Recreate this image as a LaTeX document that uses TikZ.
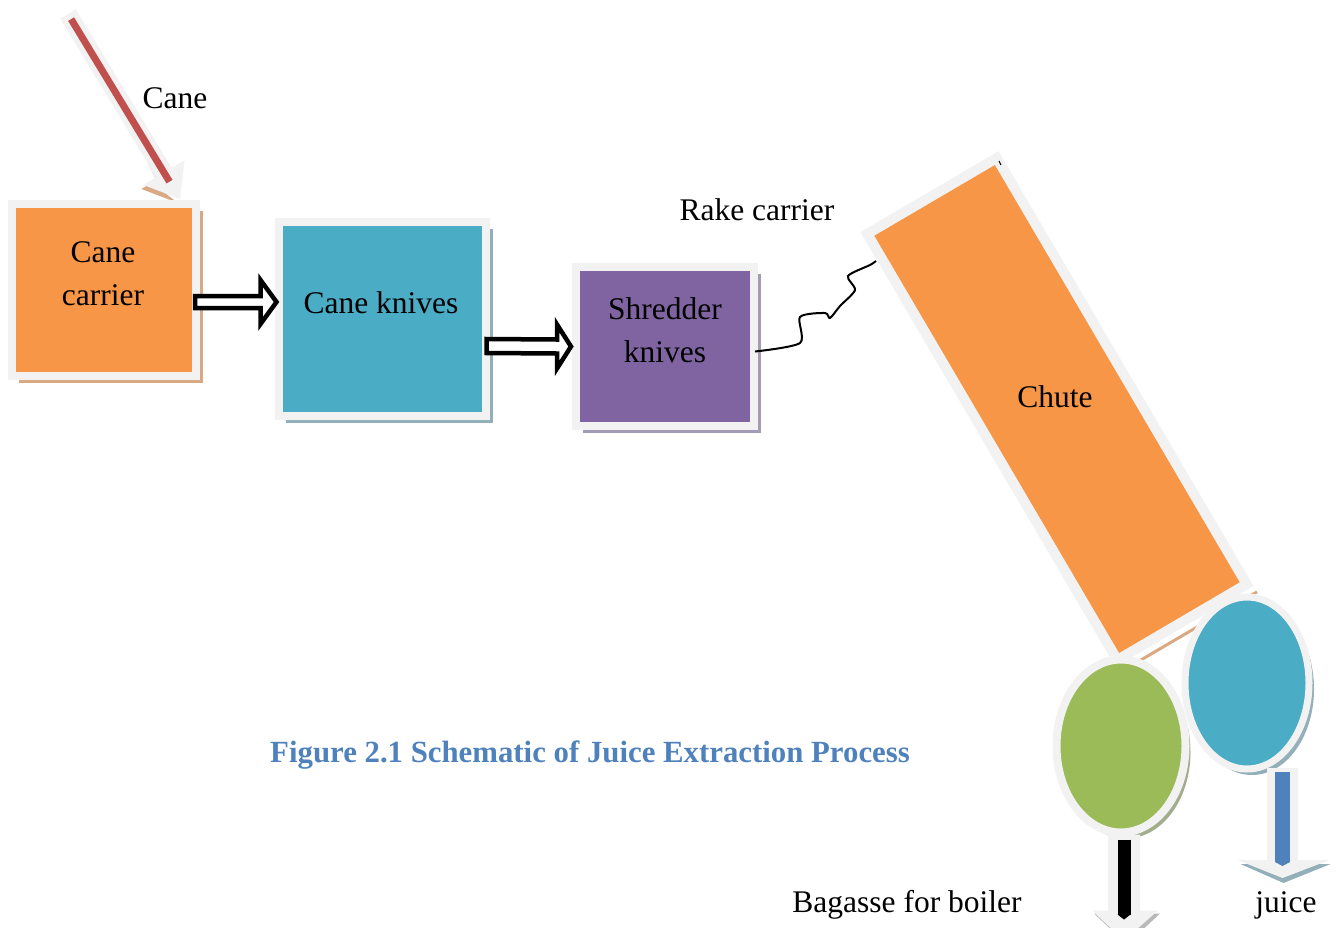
\documentclass[tikz,border=0pt]{standalone}
\usepackage{fontspec}
\setmainfont{Liberation Serif}
\usetikzlibrary{calc,shapes.geometric,shadows}
\definecolor{frameg}{HTML}{F2F2F2}
\definecolor{orng}{HTML}{F79646}
\definecolor{bluebox}{HTML}{4BACC6}
\definecolor{purp}{HTML}{8064A2}
\definecolor{grn}{HTML}{9BBB59}
\definecolor{capblue}{HTML}{4F81BD}
\definecolor{shtan}{HTML}{D9A984}
\definecolor{shblue}{HTML}{93AFBA}
\definecolor{shpurp}{HTML}{A49CB5}
\definecolor{shgrn}{HTML}{A3AC8C}
\definecolor{caneRed}{HTML}{C0504D}
\begin{document}
\begin{tikzpicture}[x=1pt,y=-1pt,
  framebox/.style={rectangle,draw=frameg,line width=8pt,inner sep=0pt},
  frameell/.style={ellipse,draw=frameg,line width=8pt,inner sep=0pt},
  lbl/.style={font=\fontsize{31.5}{43}\selectfont,align=center,inner sep=0pt},
  hollow/.style={draw=black,line width=4.5pt,fill=white,line join=miter},
  outarrow/.style={fill=frameg}
]
\useasboundingbox (0,0) rectangle (1339,927);

% ---- Cane arrow
\coordinate (cs) at (68,14);
\coordinate (ct) at (180,199);
\coordinate (cb) at ($(cs)!0.857!(ct)$);
\fill[shtan] ($(cb)!24pt!90:(cs)+(-2,4)$) -- ($(ct)+(-2,4)$) -- ($(cb)!12pt!90:(cs)+(-2,4)$) -- cycle;
\fill[frameg!80!gray!60] ($(cs)!9pt!90:(ct)+(-1.5,1)$) -- ($(cb)!9pt!90:(cs)+(-1.5,1)$) -- ($(cb)!9pt!90:(cs)$) -- ($(cs)!9pt!90:(ct)$) -- cycle;
\fill[frameg] ($(cs)!9pt!90:(ct)$) -- ($(cb)!9pt!-90:(cs)$) -- ($(cb)!24pt!-90:(cs)$) -- (ct)
  -- ($(cb)!24pt!90:(cs)$) -- ($(cb)!9pt!90:(cs)$) -- ($(cs)!9pt!-90:(ct)$) -- cycle;
\draw[caneRed,line width=7pt] ($(cs)!6pt!(ct)$) -- ($(cs)!196pt!(ct)$);
\node[lbl] (canet) at (175,98) {Cane};

% ---- Boxes
\node[framebox,fill=orng,minimum width=184pt,minimum height=172pt,
  drop shadow={shadow xshift=7pt,shadow yshift=-7pt,fill=shtan,opacity=1}] (carrier) at (104,290) {};
\node[lbl] (carriert) at (103,274) {Cane\\carrier};

\node[framebox,fill=bluebox,minimum width=207pt,minimum height=194pt,
  drop shadow={shadow xshift=7pt,shadow yshift=-7pt,fill=shblue,opacity=1}] (knives) at (382,319) {};
\node[lbl] (knivest) at (381,303) {Cane knives};

\node[framebox,fill=purp,minimum width=178pt,minimum height=159pt,
  drop shadow={shadow xshift=7pt,shadow yshift=-7pt,fill=shpurp,opacity=1}] (shredder) at (665,346.5) {};
\node[lbl] (shreddert) at (665,330) {Shredder\\knives};

% ---- Hollow block arrows
\coordinate (a1s) at ($(carrier.east)+(-5,12)$);
\coordinate (a1e) at ($(knives.west)+(2,-17)$);
\draw[hollow] ($(a1s)+(0,-6)$) -- ($(a1e)+(-16,-6)$) -- ($(a1e)+(-16,-22)$) -- (a1e)
  -- ($(a1e)+(-16,22)$) -- ($(a1e)+(-16,6)$) -- ($(a1s)+(0,6)$) -- cycle;
\coordinate (a2s) at ($(knives.east)+(-3,27)$);
\coordinate (a2e) at ($(shredder.west)+(-1,0)$);
\draw[hollow] ($(a2s)+(0,-7)$) -- ($(a2e)+(-14,-7)$) -- ($(a2e)+(-14,-22)$) -- (a2e)
  -- ($(a2e)+(-14,22)$) -- ($(a2e)+(-14,7)$) -- ($(a2s)+(0,7)$) -- cycle;

% ---- Chute
\node[rectangle,draw=frameg,fill=orng,line width=10pt,inner sep=0pt,
  minimum width=150pt,minimum height=494pt,rotate=30.4] (chute) at (1057,409) {};
\draw[shtan,line width=3pt] ($(chute.south west)+(3.5,6)$) -- ($(chute.south east)+(3.5,6)$);
\node[lbl] (chutet) at (1055,397) {Chute};
\draw[line width=1pt] (999,161) -- (1001,165);

% ---- Rake carrier connector
\node[lbl] (raket) at (757,210) {Rake carrier};
\coordinate (w0) at ($(shredder.east)+(-3,5)$);
\coordinate (w9) at (876,261);
\draw[line width=2pt] plot[smooth,tension=0.45] coordinates {(w0) (800,343) (800,317) (825,313) (830,318) (840,306) (855,290) (848,276) (870,265) (w9)};

% ---- Rollers
\node[frameell,fill=bluebox,minimum width=124pt,minimum height=172pt,line width=7pt,
  drop shadow={shadow xshift=5pt,shadow yshift=-6pt,fill=shblue,opacity=1}] (roll2) at (1247,683) {};
\node[frameell,fill=grn,minimum width=129pt,minimum height=173pt,
  drop shadow={shadow xshift=5pt,shadow yshift=-6pt,fill=shgrn,opacity=1}] (roll1) at (1121,746) {};

% ---- Bagasse arrow
\coordinate (b0) at ($(roll1.south)+(3,-2)$);
\fill[gray!55] ($(b0)+(-30,79)$) -- ($(b0)+(36,79)$) -- ($(b0)+(3,110)$) -- cycle;
\fill[frameg] ($(b0)+(-16,0)$) -- ($(b0)+(-16,76)$) -- ($(b0)+(-32,76)$) -- ($(b0)+(0,106)$)
  -- ($(b0)+(34,76)$) -- ($(b0)+(16,76)$) -- ($(b0)+(16,0)$) -- cycle;
\draw[black,line width=13pt] ($(b0)+(0,5)$) -- ($(b0)+(0,80)$);
\fill[black] ($(b0)+(-6.5,80)$) -- ($(b0)+(6.5,80)$) -- ($(b0)+(0,85)$) -- cycle;
\node[lbl] (bagt) at (907,905) {Bagasse for boiler};

% ---- Juice arrow
\coordinate (j0) at (1282.5,768);
\fill[shblue] ($(j0)+(-42,96)$) -- ($(j0)+(48,96)$) -- ($(j0)+(1,115)$) -- cycle;
\fill[frameg] ($(j0)+(-15.5,0)$) -- ($(j0)+(-15.5,92)$) -- ($(j0)+(-45,92)$) -- ($(j0)+(0,110)$)
  -- ($(j0)+(47,92)$) -- ($(j0)+(15.5,92)$) -- ($(j0)+(15.5,0)$) -- cycle;
\draw[capblue,line width=15pt] ($(j0)+(0,4)$) -- ($(j0)+(0,94)$);
\fill[capblue] ($(j0)+(-7.5,94)$) -- ($(j0)+(7.5,94)$) -- ($(j0)+(0,98)$) -- cycle;
\node[lbl] (juicet) at (1286,905) {juice};

% ---- Caption
\node[font=\bfseries\fontsize{30.8}{36}\selectfont,text=capblue,inner sep=0pt] (caption) at (590,755)
  {Figure 2.1 Schematic of Juice Extraction Process};
\end{tikzpicture}
\end{document}
